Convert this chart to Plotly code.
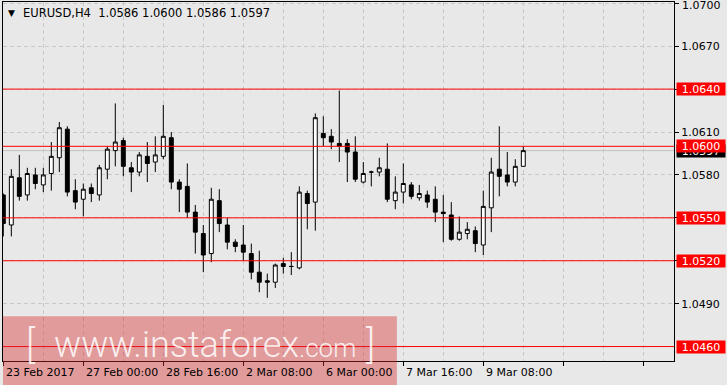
import plotly.graph_objects as go

# ---------------- data ----------------
opens = [1.0566, 1.0545, 1.0578, 1.0566, 1.0580, 1.0573, 1.0581, 1.0592, 1.0612, 1.0569,
         1.0563, 1.0571, 1.0566, 1.0584, 1.0597, 1.0604, 1.0585, 1.0582, 1.0593, 1.0589,
         1.0593, 1.0606, 1.0575, 1.0572, 1.0554, 1.0539, 1.0525, 1.0562, 1.0545, 1.0533,
         1.0531, 1.0525, 1.0512, 1.0506, 1.0505, 1.0518, 1.0516, 1.0515, 1.0567, 1.0561,
         1.0609, 1.0607, 1.0602, 1.0602, 1.0596, 1.0575, 1.0582, 1.0582, 1.0584, 1.0562,
         1.0568, 1.0573, 1.0564, 1.0566, 1.0563, 1.0554, 1.0552, 1.0535, 1.0539, 1.0541,
         1.0531, 1.0557, 1.0584, 1.0580, 1.0575, 1.0586]
highs = [1.0567, 1.0584, 1.0594, 1.0585, 1.0585, 1.0585, 1.0603, 1.0617, 1.0614, 1.0577,
         1.0574, 1.0574, 1.0587, 1.0600, 1.0630, 1.0606, 1.0589, 1.0596, 1.0603, 1.0607,
         1.0629, 1.0610, 1.0577, 1.0588, 1.0559, 1.0545, 1.0571, 1.0570, 1.0550, 1.0535,
         1.0545, 1.0532, 1.0527, 1.0511, 1.0518, 1.0522, 1.0526, 1.0572, 1.0569, 1.0623,
         1.0621, 1.0612, 1.0639, 1.0605, 1.0607, 1.0589, 1.0583, 1.0592, 1.0602, 1.0579,
         1.0588, 1.0575, 1.0573, 1.0569, 1.0572, 1.0566, 1.0561, 1.0551, 1.0547, 1.0544,
         1.0569, 1.0592, 1.0614, 1.0596, 1.0591, 1.0600]
lows = [1.0537, 1.0537, 1.0562, 1.0562, 1.0570, 1.0568, 1.0569, 1.0582, 1.0565, 1.0556,
        1.0551, 1.0561, 1.0562, 1.0577, 1.0586, 1.0579, 1.0568, 1.0579, 1.0575, 1.0582,
        1.0591, 1.0570, 1.0554, 1.0550, 1.0525, 1.0512, 1.0519, 1.0540, 1.0528, 1.0526,
        1.0520, 1.0507, 1.0498, 1.0494, 1.0501, 1.0511, 1.0510, 1.0514, 1.0542, 1.0541,
        1.0600, 1.0598, 1.0589, 1.0575, 1.0575, 1.0574, 1.0572, 1.0579, 1.0561, 1.0556,
        1.0560, 1.0563, 1.0562, 1.0557, 1.0547, 1.0533, 1.0534, 1.0534, 1.0535, 1.0526,
        1.0524, 1.0540, 1.0565, 1.0572, 1.0572, 1.0586]
closes = [1.0546, 1.0579, 1.0565, 1.0581, 1.0574, 1.0580, 1.0593, 1.0613, 1.0568, 1.0561,
          1.0570, 1.0567, 1.0585, 1.0598, 1.0603, 1.0586, 1.0582, 1.0594, 1.0588, 1.0594,
          1.0607, 1.0575, 1.0570, 1.0554, 1.0540, 1.0524, 1.0563, 1.0546, 1.0533, 1.0530,
          1.0526, 1.0512, 1.0505, 1.0505, 1.0517, 1.0516, 1.0516, 1.0568, 1.0560, 1.0620,
          1.0606, 1.0603, 1.0600, 1.0596, 1.0577, 1.0581, 1.0582, 1.0585, 1.0563, 1.0568,
          1.0574, 1.0565, 1.0567, 1.0561, 1.0554, 1.0553, 1.0535, 1.0540, 1.0542, 1.0532,
          1.0558, 1.0582, 1.0579, 1.0575, 1.0586, 1.0597]
bars = list(range(len(opens)))

x_label_bars = [0, 10, 20, 30, 40, 50, 60]
x_labels = ["23 Feb 2017", "27 Feb 00:00", "28 Feb 16:00", "2 Mar 08:00",
            "6 Mar 00:00", "7 Mar 16:00", "9 Mar 08:00"]
y_ticks = [1.0490, 1.0520, 1.0550, 1.0580, 1.0610, 1.0640, 1.0670, 1.0700]
y_top_tick = 1.0700
level_lines = [1.0640, 1.0600, 1.0550, 1.0520, 1.0460]
current_price = 1.0597
header = "EURUSD,H4\u00a0\u00a01.0586 1.0600 1.0586 1.0597"

FONT = "DejaVu Sans"
BG = "#e8e8e8"

fig = go.Figure()
fig.add_trace(go.Candlestick(
    x=bars, open=opens, high=highs, low=lows, close=closes,
    increasing=dict(line=dict(color="black", width=1), fillcolor="white"),
    decreasing=dict(line=dict(color="black", width=1), fillcolor="black"),
    whiskerwidth=0, hoverinfo="skip", showlegend=False,
))

shapes = []
# current price line (behind candles)
shapes.append(dict(type="line", xref="paper", x0=0, x1=1, yref="y",
                   y0=current_price, y1=current_price,
                   line=dict(color="#c0c0c0", width=1), layer="below"))
for lv in level_lines:
    shapes.append(dict(type="line", xref="paper", x0=0, x1=1, yref="y", y0=lv, y1=lv,
                       line=dict(color="#ff0000", width=1), layer="above"))
# watermark band
shapes.append(dict(type="rect", xref="paper", yref="paper", x0=0, x1=0.587,
                   y0=-0.07, y1=0.125, fillcolor="rgba(215,40,40,0.4)",
                   line=dict(width=0), layer="above"))

annotations = []
# x-axis labels (left aligned at their tick)
for b, t in zip(x_label_bars, x_labels):
    annotations.append(dict(x=b, xref="x", y=0, yref="paper", text=t, showarrow=False,
                            xanchor="left", yanchor="top", xshift=1, yshift=-3,
                            font=dict(family=FONT, size=11, color="black")))
# top price label nudged down so it stays inside the picture
annotations.append(dict(x=1, xref="paper", y=y_top_tick, yref="y", text=f"{y_top_tick:.4f}",
                        showarrow=False, xanchor="left", yanchor="middle", xshift=6,
                        yshift=-2, font=dict(family=FONT, size=11, color="black")))
# current price box (black) then level boxes (red)
annotations.append(dict(x=1, xref="paper", y=current_price, yref="y", text="1.0597",
                        showarrow=False, xanchor="left", yanchor="middle", xshift=2,
                        bgcolor="black", width=46, height=10, borderpad=1,
                        font=dict(family=FONT, size=11, color="white")))
for lv in level_lines:
    annotations.append(dict(x=1, xref="paper", y=lv, yref="y", text=f"{lv:.4f}",
                            showarrow=False, xanchor="left", yanchor="middle", xshift=2,
                            bgcolor="#ff0000", width=46, height=10, borderpad=1,
                            font=dict(family=FONT, size=11, color="white")))
# header
annotations.append(dict(x=0.0127, xref="paper", y=0.97, yref="paper", text="\u25bc",
                        showarrow=False, xanchor="center", yanchor="middle",
                        font=dict(family=FONT, size=9, color="black")))
annotations.append(dict(x=0.0268, xref="paper", y=0.97, yref="paper", text=header,
                        showarrow=False, xanchor="left", yanchor="middle",
                        font=dict(family=FONT, size=11.5, color="black")))
# watermark text
wm_col = "rgba(255,255,255,0.85)"
annotations.append(dict(x=0.031, xref="paper", y=0.045, yref="paper", text="[",
                        showarrow=False, xanchor="left", yanchor="middle",
                        font=dict(family="Roboto", size=38, color=wm_col, weight=300)))
annotations.append(dict(x=0.073, xref="paper", y=0.045, yref="paper",
                        text="www.instaforex<span style='font-size:26px'>.com</span>",
                        showarrow=False, xanchor="left", yanchor="middle",
                        font=dict(family="Roboto", size=36, color=wm_col, weight=300)))
annotations.append(dict(x=0.538, xref="paper", y=0.045, yref="paper", text="]",
                        showarrow=False, xanchor="left", yanchor="middle",
                        font=dict(family="Roboto", size=38, color=wm_col, weight=300)))

y_ticktext = ["" if v == y_top_tick else f"{v:.4f}" for v in y_ticks]

fig.update_layout(
    width=727, height=385,
    margin=dict(l=3, r=53, t=2, b=24, pad=0, autoexpand=False),
    paper_bgcolor=BG, plot_bgcolor=BG,
    font=dict(family=FONT, size=11, color="black"),
    shapes=shapes, annotations=annotations,
    showlegend=False,
    xaxis=dict(range=[-0.04, 83.84], rangeslider=dict(visible=False), automargin=False,
               tickvals=[0, 10, 20, 30, 40, 50, 60, 70, 80], showticklabels=False,
               ticks="outside", ticklen=4, tickcolor="black",
               showgrid=True, gridcolor="#c8c8c8", griddash="4px,3px", gridwidth=1,
               minor=dict(tickvals=[5, 15, 25, 35, 45, 55, 65, 75], showgrid=True,
                          gridcolor="#c8c8c8", griddash="4px,3px", ticks=""),
               showline=True, linecolor="black", linewidth=1, mirror=True,
               zeroline=False, fixedrange=True),
    yaxis=dict(range=[1.04499, 1.07009], side="right", automargin=False,
               tickvals=y_ticks, ticktext=y_ticktext, ticks="outside", ticklen=4,
               tickcolor="black", tickfont=dict(family=FONT, size=11, color="black"),
               showgrid=True, gridcolor="#c8c8c8", griddash="4px,3px", gridwidth=1,
               showline=True, linecolor="black", linewidth=1, mirror=True,
               zeroline=False, fixedrange=True),
)

fig.write_html("out.html")
